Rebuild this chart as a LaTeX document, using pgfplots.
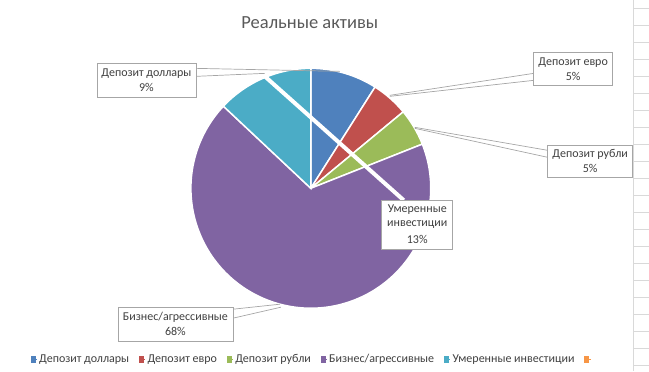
\documentclass[border=0pt]{standalone}
\usepackage{pgfplots}
\pgfplotsset{compat=1.18}
\usepackage{fontspec}
\setmainfont{Carlito}
\definecolor{cDol}{HTML}{4F81BD}
\definecolor{cEur}{HTML}{C0504D}
\definecolor{cRub}{HTML}{9BBB59}
\definecolor{cBiz}{HTML}{8064A2}
\definecolor{cMod}{HTML}{4BACC6}
\definecolor{cEx}{HTML}{F79646}
\definecolor{txt}{HTML}{404040}
\definecolor{ttl}{HTML}{595959}
\definecolor{lead}{HTML}{A6A6A6}
\definecolor{gridc}{HTML}{D9D9D9}
% slice from cumulative percentage #1 to #2 (values: 9, 5, 5, 68, 13)
\newcommand{\pieslice}[3]{%
  \fill[#3,draw=white,line width=1.5pt] (axis cs:311,188) -- ++({90-3.6*#1}:120pt)
    arc[start angle={90-3.6*#1}, end angle={90-3.6*#2}, radius=120pt] -- cycle;}
\begin{document}
\begin{tikzpicture}
\begin{axis}[
  scale only axis, width=649pt, height=371pt,
  xmin=0, xmax=649, ymin=0, ymax=371, y dir=reverse,
  hide axis, clip=false,
  legend style={at={(axis cs:313,359)}, anchor=center, draw=none, fill=none,
    font=\fontsize{12}{14}\selectfont\color{txt}, legend columns=-1,
    /tikz/every even column/.append style={column sep=8pt},
    legend cell align=left, inner sep=0pt},
  legend image code/.code={\fill (0pt,-3pt) rectangle (4pt,3pt); \path (0pt,0pt) -- (6pt,0pt);},
]
\path (axis cs:0,0) rectangle (axis cs:649,371);
% spreadsheet grid at right edge
\draw[gridc, line width=0.8pt] (axis cs:634,0) -- (axis cs:634,371);
\pgfplotsinvokeforeach{0,...,21}{\draw[gridc, line width=0.8pt] (axis cs:634,{8.5+17*#1}) -- (axis cs:649,{8.5+17*#1});}
% title
\node[ttl, font=\fontsize{18.5}{22}\selectfont] at (axis cs:310,22) {Реальные активы};
% pie: Депозит доллары 9, Депозит евро 5, Депозит рубли 5, Бизнес/агрессивные 68, Умеренные инвестиции 13
\pieslice{0}{9}{cDol}
\pieslice{9}{14}{cEur}
\pieslice{14}{19}{cRub}
\pieslice{19}{87}{cBiz}
\pieslice{87}{100}{cMod}
% leader lines
\draw[lead, line width=0.7pt] (axis cs:196,68) -- (axis cs:340,71);
\draw[lead, line width=0.7pt] (axis cs:196,76) -- (axis cs:265,73);
\draw[white, line width=4pt] (axis cs:265,76) -- (axis cs:404,200);
\draw[lead, line width=0.7pt] (axis cs:534,73) -- (axis cs:390,95);
\draw[lead, line width=0.7pt] (axis cs:534,80) -- (axis cs:390,96);
\draw[lead, line width=0.7pt] (axis cs:548,150) -- (axis cs:415,127);
\draw[lead, line width=0.7pt] (axis cs:548,157) -- (axis cs:415,128);
\draw[lead, line width=0.7pt] (axis cs:233,309) -- (axis cs:280,304);
\draw[lead, line width=0.7pt] (axis cs:233,318) -- (axis cs:281,307);
% label boxes
\tikzset{lbox/.style={draw=lead, fill=white, line width=0.7pt}}
\tikzset{ltxt/.style={txt, font=\fontsize{12}{14}\selectfont}}
\draw[lbox] (axis cs:97,63) rectangle (axis cs:196,97);
\node[ltxt] at (axis cs:146.5,73) {Депозит доллары};
\node[ltxt] at (axis cs:146.5,87) {9\%};
\draw[lbox] (axis cs:534,52) rectangle (axis cs:613,85);
\node[ltxt] at (axis cs:573.5,62) {Депозит евро};
\node[ltxt] at (axis cs:573.5,76) {5\%};
\draw[lbox] (axis cs:548,145) rectangle (axis cs:633,177);
\node[ltxt] at (axis cs:590.5,154) {Депозит рубли};
\node[ltxt] at (axis cs:590.5,168) {5\%};
\draw[lbox] (axis cs:382,200) rectangle (axis cs:453,249);
\node[ltxt] at (axis cs:417.5,209) {Умеренные};
\node[ltxt] at (axis cs:417.5,224) {инвестиции};
\node[ltxt] at (axis cs:417.5,239) {13\%};
\draw[lbox] (axis cs:118,307) rectangle (axis cs:233,341);
\node[ltxt] at (axis cs:175.5,317) {Бизнес/агрессивные};
\node[ltxt] at (axis cs:175.5,331) {68\%};
% legend
\addlegendimage{cDol}\addlegendentry{Депозит доллары}
\addlegendimage{cEur}\addlegendentry{Депозит евро}
\addlegendimage{cRub}\addlegendentry{Депозит рубли}
\addlegendimage{cBiz}\addlegendentry{Бизнес/агрессивные}
\addlegendimage{cMod}\addlegendentry{Умеренные инвестиции}
\addlegendimage{cEx}\addlegendentry{}
\end{axis}
\end{tikzpicture}
\end{document}
